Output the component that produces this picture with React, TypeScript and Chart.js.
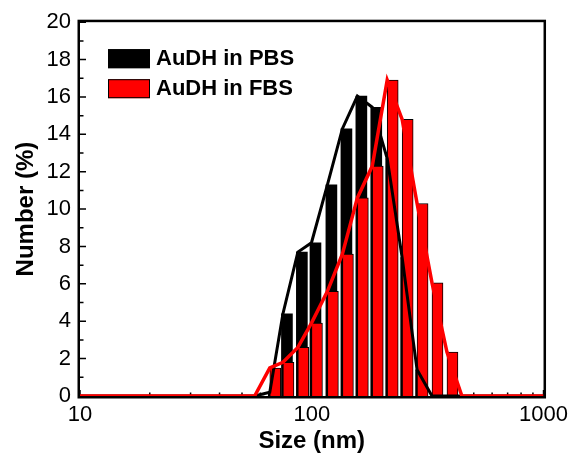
import React, { useEffect, useRef } from 'react';
import { Chart, registerables } from 'chart.js';

Chart.register(...registerables);

// Size bins (nm)
const sizes = [10, 56.7, 65.9, 75.1, 87.1, 99.7, 116.8, 135.6, 157.3, 182.4, 211.6, 245.5, 284.7, 330.2, 383.1, 444.4, 1000];
// Number (%) for AuDH in PBS
const pbsValues = [0, 0, 0.2, 4.4, 7.7, 8.2, 11.3, 14.3, 16.05, 15.45, 12.7, 7.4, 1.4, 0, 0, 0, 0];
// Number (%) for AuDH in FBS
const fbsValues = [0, 0, 1.5, 1.8, 2.6, 3.9, 5.6, 7.6, 10.6, 12.3, 16.9, 14.8, 10.3, 6.05, 2.35, 0, 0];

const seriesLabels = ['AuDH in PBS', 'AuDH in FBS'];
const xTickValues = [10, 100, 1000];
const yTickStep = 2;
const xTitle = 'Size (nm)';
const yTitle = 'Number (%)';

const FONT = "'Liberation Sans', Arial, sans-serif";

const toPoints = (vals: number[]) => sizes.map((s, i) => ({ x: s, y: vals[i] }));

const shiftBars = {
  id: 'shiftBars',
  afterDatasetsUpdate(chart: any) {
    chart.data.datasets.forEach((ds: any, i: number) => {
      if (ds.type !== 'bar') return;
      const meta = chart.getDatasetMeta(i);
      meta.data.forEach((el: any) => {
        el.x = el.x + el.width / 2 + (ds.barShift || 0);
      });
    });
  },
};

const frameAndTicks = {
  id: 'frameAndTicks',
  beforeDatasetsDraw(chart: any) {
    const { ctx, chartArea, scales } = chart;
    const { left, right, top, bottom } = chartArea;
    const x = scales.x;
    const y = scales.y;
    ctx.save();
    ctx.strokeStyle = '#000';
    ctx.lineWidth = 2.5;
    ctx.strokeRect(left - 1.25, top - 1.25, right - left + 2.5, bottom - top + 2.5);
    ctx.lineWidth = 1.5;
    ctx.beginPath();
    for (let v = 0; v <= 20; v += 1) {
      const py = y.getPixelForValue(v);
      const len = v % 2 === 0 ? 6 : 3.5;
      ctx.moveTo(left, py);
      ctx.lineTo(left + len, py);
    }
    for (let d = 10; d < 1000; d *= 10) {
      for (let k = 1; k <= 10; k++) {
        const v = d * k;
        const px = x.getPixelForValue(v);
        const len = k === 1 || k === 10 ? 6 : 3.5;
        ctx.moveTo(px, bottom);
        ctx.lineTo(px, bottom - len);
      }
    }
    ctx.stroke();
    ctx.restore();
  },
};

const legendPlugin = {
  id: 'insideLegend',
  afterDraw(chart: any) {
    const { ctx, chartArea } = chart;
    const items = chart.data.datasets.filter((d: any) => d.type === 'bar');
    const bx = chartArea.left + 28;
    let by = chartArea.top + 27;
    ctx.save();
    items.forEach((ds: any) => {
      ctx.fillStyle = ds.backgroundColor;
      ctx.fillRect(bx, by, 42, 19);
      ctx.strokeStyle = '#000';
      ctx.lineWidth = 1;
      ctx.strokeRect(bx + 0.5, by + 0.5, 41, 18);
      ctx.fillStyle = '#000';
      ctx.font = `bold 22px ${FONT}`;
      ctx.textBaseline = 'middle';
      ctx.textAlign = 'left';
      ctx.fillText(ds.label, bx + 48, by + 10);
      by += 30;
    });
    ctx.restore();
  },
};

export default function App() {
  const ref = useRef<HTMLCanvasElement | null>(null);

  useEffect(() => {
    if (!ref.current) return;
    const chart = new Chart(ref.current, {
      type: 'bar',
      data: {
        datasets: [
          {
            type: 'line',
            label: seriesLabels[1] + ' fit',
            data: toPoints(fbsValues),
            borderColor: '#FF0000',
            borderWidth: 3.5,
            pointRadius: 0,
            tension: 0,
            order: 0,
          } as any,
          {
            type: 'line',
            label: seriesLabels[0] + ' fit',
            data: toPoints(pbsValues),
            borderColor: '#000000',
            borderWidth: 3,
            pointRadius: 0,
            tension: 0,
            order: 1,
          } as any,
          {
            type: 'bar',
            label: seriesLabels[0],
            data: toPoints(pbsValues),
            backgroundColor: '#000000',
            borderColor: '#000000',
            borderWidth: 0,
            barThickness: 11,
            grouped: false,
            barShift: -1.5,
            order: 3,
          } as any,
          {
            type: 'bar',
            label: seriesLabels[1],
            data: toPoints(fbsValues),
            backgroundColor: '#FF0000',
            borderColor: '#000000',
            borderWidth: 1,
            barThickness: 11,
            grouped: false,
            barShift: 0,
            order: 2,
          } as any,
        ],
      },
      options: {
        responsive: false,
        animation: false,
        layout: { padding: { top: 20, right: 30, left: 0, bottom: 0 } },
        plugins: {
          legend: { display: false },
          tooltip: { enabled: false },
        },
        scales: {
          x: {
            type: 'logarithmic',
            min: 10,
            max: 1000,
            offset: false,
            grid: { display: false, drawTicks: false, offset: false },
            border: { display: false },
            afterBuildTicks: (s: any) => {
              s.ticks = xTickValues.map((v) => ({ value: v }));
            },
            afterFit: (s: any) => {
              s.height = 67;
            },
            ticks: {
              autoSkip: false,
              maxRotation: 0,
              color: '#000',
              padding: 6,
              font: { family: FONT, size: 22 },
              callback: (v: any) => String(v),
            },
            title: {
              display: true,
              text: xTitle,
              color: '#000',
              font: { family: FONT, size: 24, weight: 'bold' },
              padding: { top: 0, bottom: 7 },
            },
          } as any,
          y: {
            min: 0,
            max: 20,
            grid: { display: false, drawTicks: false },
            border: { display: false },
            afterFit: (s: any) => {
              s.width = 80;
            },
            ticks: {
              stepSize: yTickStep,
              color: '#000',
              padding: 9,
              font: { family: FONT, size: 22 },
            },
            title: {
              display: true,
              text: yTitle,
              color: '#000',
              font: { family: FONT, size: 24, weight: 'bold' },
              padding: { top: 12, bottom: 0 },
            },
          } as any,
        },
      },
      plugins: [shiftBars, frameAndTicks, legendPlugin],
    });
    return () => chart.destroy();
  }, []);

  return (
    <canvas
      ref={ref}
      width={574}
      height={463}
      style={{ position: 'absolute', left: 0, top: 0, width: 574, height: 463 }}
    />
  );
}
